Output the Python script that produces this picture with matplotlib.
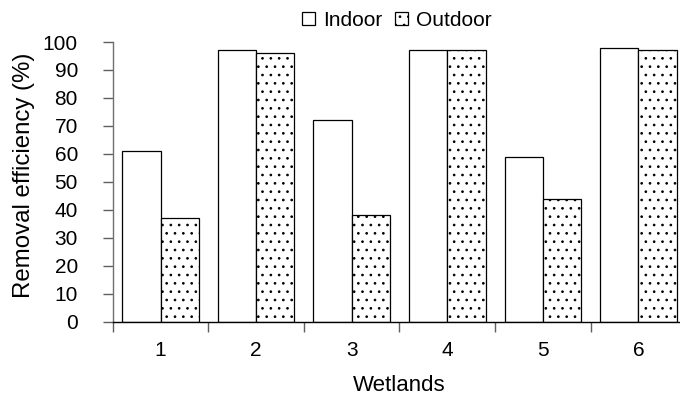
import matplotlib
matplotlib.use("Agg")
import matplotlib.pyplot as plt
import numpy as np

categories = ["1", "2", "3", "4", "5", "6"]
indoor = [61, 97, 72, 97, 59, 98]
outdoor = [37, 96, 38, 97, 44, 97]
yticks = [0, 10, 20, 30, 40, 50, 60, 70, 80, 90, 100]

plt.rcParams['font.family'] = ['Liberation Sans', 'DejaVu Sans']
plt.rcParams['hatch.color'] = '#606060'
plt.rcParams['hatch.linewidth'] = 0.7

fig = plt.figure(figsize=(6.8, 4.08), dpi=100)
ax = fig.add_axes([112.7 / 680, 1 - 321.7 / 408, 573.6 / 680, 279.7 / 408])

x = np.arange(len(categories))
w = 0.4
ax.bar(x - w / 2, indoor, w, color='white', edgecolor='black', linewidth=0.9,
       label='Indoor')
ax.bar(x + w / 2, outdoor, w, color='white', edgecolor='black', linewidth=0.9,
       hatch='..', label='Outdoor')

ax.set_xlim(-0.5, len(categories) - 0.5)
ax.set_ylim(0, 100)
ax.set_yticks(yticks)
ax.set_yticklabels([str(v) for v in yticks], fontsize=15)
ax.set_xticks(x)
ax.set_xticklabels(categories, fontsize=15)
ax.set_xticks(np.arange(len(categories) + 1) - 0.5, minor=True)
ax.tick_params(axis='x', which='major', length=0, pad=14)
ax.tick_params(axis='x', which='minor', length=7, width=1, color='#606060',
               direction='out')
ax.tick_params(axis='y', length=7, width=1, color='#606060', direction='out',
               pad=18)

for s in ['top', 'right']:
    ax.spines[s].set_visible(False)
ax.spines['left'].set_color('#707070')
ax.spines['left'].set_linewidth(1.0)
ax.spines['bottom'].set_color('black')
ax.spines['bottom'].set_linewidth(1.0)

ax.set_ylabel('Removal efficiency (%)', fontsize=17.3, labelpad=6)
ax.yaxis.label.set_y(0.523)
ax.set_xlabel('Wetlands', fontsize=16, labelpad=11)

leg = fig.legend(loc='center', bbox_to_anchor=(397 / 680, 1 - 20 / 408),
                 ncol=2, frameon=False, fontsize=15, handlelength=0.6,
                 handleheight=0.6, handletextpad=0.4, columnspacing=0.6,
                 borderpad=0)

fig.savefig('out.png', dpi=100)
